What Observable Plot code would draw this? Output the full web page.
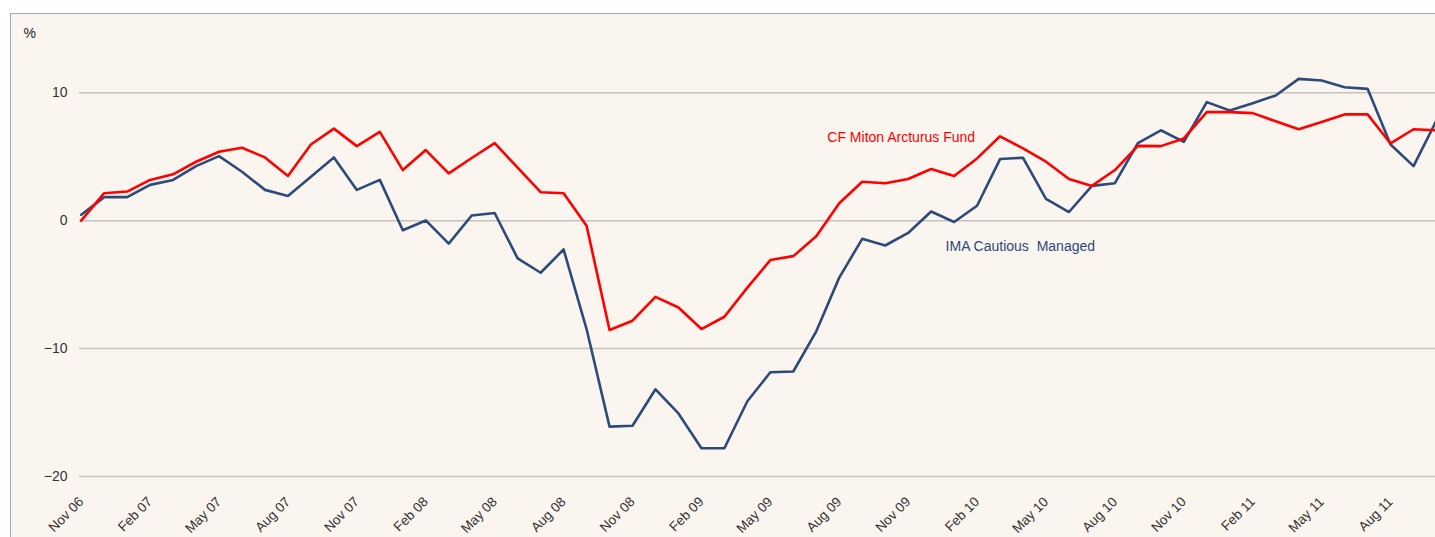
<!DOCTYPE html>
<html>
<head>
<meta charset="utf-8">
<script src="https://cdn.jsdelivr.net/npm/d3@7"></script>
<script src="https://cdn.jsdelivr.net/npm/@observablehq/plot@0.6"></script>
<style>
  html, body { margin: 0; padding: 0; background: #ffffff; overflow: hidden; }
  #wrap { position: relative; width: 1435px; height: 537px; overflow: hidden; }
  #panel { position: absolute; left: 10px; top: 13px; width: 1600px; height: 700px;
           background: #fbf5ef; border-left: 1px solid #a9a9a9; border-top: 1px solid #a9a9a9; }
  #chart { position: absolute; left: 0; top: 0; }
</style>
</head>
<body>
<div id="wrap"><div id="panel"></div><div id="chart"></div></div>
<script>
// Monthly data, Nov 06 – Oct 11 (cumulative % return)
const months = [
  "Nov 06","Dec 06","Jan 07","Feb 07","Mar 07","Apr 07","May 07","Jun 07","Jul 07","Aug 07","Sep 07","Oct 07",
  "Nov 07","Dec 07","Jan 08","Feb 08","Mar 08","Apr 08","May 08","Jun 08","Jul 08","Aug 08","Sep 08","Oct 08",
  "Nov 08","Dec 08","Jan 09","Feb 09","Mar 09","Apr 09","May 09","Jun 09","Jul 09","Aug 09","Sep 09","Oct 09",
  "Nov 09","Dec 09","Jan 10","Feb 10","Mar 10","Apr 10","May 10","Jun 10","Jul 10","Aug 10","Sep 10","Oct 10",
  "Nov 10","Dec 10","Jan 11","Feb 11","Mar 11","Apr 11","May 11","Jun 11","Jul 11","Aug 11","Sep 11","Oct 11"
];
const mitonFund = [
  0.0, 2.15, 2.28, 3.19, 3.63, 4.61, 5.39, 5.70, 4.95, 3.50, 5.96, 7.20,
  5.83, 6.94, 3.96, 5.52, 3.70, 4.90, 6.06, 4.15, 2.23, 2.15, -0.39, -8.55,
  -7.82, -5.96, -6.79, -8.47, -7.51, -5.23, -3.08, -2.77, -1.22, 1.37, 3.05, 2.93,
  3.26, 4.04, 3.50, 4.87, 6.60, 5.65, 4.61, 3.26, 2.72, 3.96, 5.85, 5.83,
  6.43, 8.49, 8.49, 8.41, 7.77, 7.15, 7.72, 8.31, 8.31, 6.04, 7.15, 7.07
];
const imaCautious = [
  0.47, 1.84, 1.84, 2.80, 3.19, 4.27, 5.05, 3.83, 2.41, 1.94, 3.44, 4.95,
  2.41, 3.19, -0.75, 0.02, -1.79, 0.41, 0.60, -2.95, -4.07, -2.25, -8.47, -16.10,
  -16.03, -13.18, -15.07, -17.79, -17.79, -14.12, -11.85, -11.79, -8.65, -4.45, -1.42, -1.94,
  -0.96, 0.72, -0.10, 1.17, 4.82, 4.92, 1.71, 0.68, 2.72, 2.93, 6.06, 7.07,
  6.16, 9.27, 8.62, 9.19, 9.79, 11.09, 10.96, 10.44, 10.31, 5.96, 4.27, 7.85
];
const seriesNames = ["IMA Cautious  Managed", "CF Miton Arcturus Fund"];
const seriesColors = ["#2c4a7a", "#ff0000"];
const yTicks = [-20, -10, 0, 10];
const xTickEvery = 3;
// series label anchors (month index, value)
const labelPos = [ {i: 37.63, v: -2.39}, {i: 32.48, v: 6.16} ];

const rows = [];
months.forEach((m, i) => {
  rows.push({i, month: m, value: imaCautious[i], series: seriesNames[0]});
  rows.push({i, month: m, value: mitonFund[i], series: seriesNames[1]});
});
const labels = seriesNames.map((s, k) => ({series: s, i: labelPos[k].i, v: labelPos[k].v}));
const xTicks = months.map((m, i) => i).filter(i => i % xTickEvery === 0);

const chart = Plot.plot({
  width: 1435,
  height: 537,
  marginLeft: 79,
  marginRight: 0,
  marginTop: 20,
  marginBottom: 52,
  style: {background: "transparent", fontFamily: "'Liberation Sans', Arial, sans-serif", color: "#333"},
  x: {domain: [0, months.length - 1], range: [80.7, 1436]},
  y: {domain: [-20, 10], range: [476, 92.3]},
  color: {domain: seriesNames, range: seriesColors},
  marks: [
    Plot.ruleY(yTicks, {stroke: "#c6c2bd", strokeWidth: 1.5}),
    Plot.lineY(rows.filter(d => d.series === seriesNames[0]), {x: "i", y: "value", stroke: seriesColors[0], strokeWidth: 2.6}),
    Plot.lineY(rows.filter(d => d.series === seriesNames[1]), {x: "i", y: "value", stroke: seriesColors[1], strokeWidth: 2.6}),
    Plot.text(labels, {x: "i", y: "v", text: "series", fill: "series", textAnchor: "start", lineAnchor: "bottom", fontSize: 14}),
    Plot.axisY({ticks: yTicks, tickSize: 0, tickPadding: 12, fontSize: 14, label: null}),
    Plot.axisX({ticks: xTicks, tickFormat: i => months[i], tickRotate: -45, tickSize: 0, tickPadding: 14, fontSize: 13.5, label: null}),
    Plot.text(["%"], {frameAnchor: "top-left", dx: -56, dy: 13, textAnchor: "start", lineAnchor: "middle", fontSize: 14, fill: "#222"})
  ]
});
document.getElementById("chart").appendChild(chart);
</script>
</body>
</html>
